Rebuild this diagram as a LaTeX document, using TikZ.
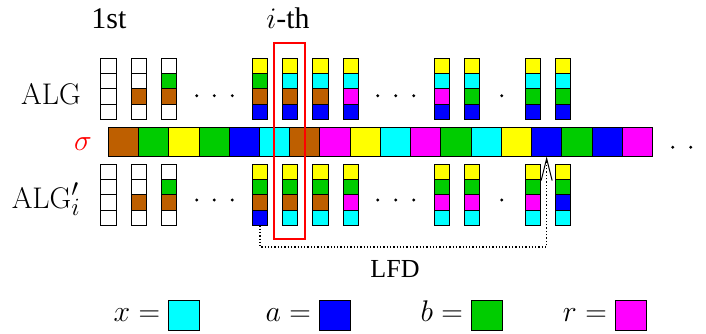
\documentclass[tikz,border=0pt]{standalone}
\usepackage{fontspec}
\newfontfamily\tms{Liberation Serif}
\usetikzlibrary{arrows.meta}
\definecolor{mybrown}{RGB}{190,95,0}
\definecolor{mygreen}{RGB}{0,204,0}
\definecolor{myyellow}{RGB}{255,255,0}
\definecolor{mycyan}{RGB}{0,255,255}
\definecolor{myblue}{RGB}{0,0,255}
\definecolor{mymagenta}{RGB}{255,0,255}
\tikzset{
  cell/.style={draw=black, line width=0.8pt, minimum width=15.3pt, minimum height=15.25pt, inner sep=0pt, outer sep=0pt},
  scell/.style={draw=black, line width=0.9pt, minimum width=30.23pt, minimum height=29.5pt, inner sep=0pt, outer sep=0pt},
  lcell/.style={draw=black, line width=0.9pt, minimum width=31pt, minimum height=30pt, inner sep=0pt, outer sep=0pt},
  big/.style={inner sep=0pt, font=\Huge, scale=1.2},
  lbl/.style={inner sep=0pt, font=\fontsize{26}{26}\selectfont\tms},
}
\newcommand\mystack[4]{%
  \foreach \cc [count=\k] in {#4} {
    \node[cell, fill=\cc] (#1-\k) at ({108.35+30.3*#2}, {#3+15.25*(\k-0.5)}) {};
  }}
\begin{document}
\begin{tikzpicture}[x=1pt, y=-1pt]
\useasboundingbox (0,0) rectangle (706,334);
% labels
\node[inner sep=0pt, anchor=base, font=\fontsize{30}{30}\selectfont\tms] (first) at (109,28.3) {1st};
\node[big, anchor=base] (ith) at (288,28.3) {$i$\fontsize{24.88}{25}\selectfont\tms -th};
\node[big, anchor=base] (alg) at (51,105) {$\mathrm{ALG}$};
\node[big, anchor=base] (algp) at (46,208) {$\mathrm{ALG}'_i$};
\node[big, anchor=base, text=red] (sig) at (83,150) {$\sigma$};
% sigma strip
\foreach \cc [count=\k from 0] in {mybrown,mygreen,myyellow,mygreen,myblue,mycyan,mybrown,mymagenta,myyellow,mycyan,mymagenta,mygreen,mycyan,myyellow,myblue,mygreen,myblue,mymagenta} {
  \node[scell, fill=\cc] (s\k) at ({108.3+30.23*(\k+0.5)}, 141.75) {};
}
% ALG stacks
\mystack{a0}{0}{58.3}{white,white,white,white}
\mystack{a1}{1}{58.3}{white,white,mybrown,white}
\mystack{a2}{2}{58.3}{white,mygreen,mybrown,white}
\mystack{a5}{5}{58.3}{myyellow,mygreen,mybrown,myblue}
\mystack{a6}{6}{58.3}{myyellow,mycyan,mybrown,myblue}
\mystack{a7}{7}{58.3}{myyellow,mycyan,mybrown,myblue}
\mystack{a8}{8}{58.3}{myyellow,mycyan,mymagenta,myblue}
\mystack{a11}{11}{58.3}{myyellow,mycyan,mymagenta,myblue}
\mystack{a12}{12}{58.3}{myyellow,mycyan,mygreen,myblue}
\mystack{a14}{14}{58.3}{myyellow,mycyan,mygreen,myblue}
\mystack{a15}{15}{58.3}{myyellow,mycyan,mygreen,myblue}
% ALG' stacks
\mystack{p0}{0}{164.3}{white,white,white,white}
\mystack{p1}{1}{164.3}{white,white,mybrown,white}
\mystack{p2}{2}{164.3}{white,mygreen,mybrown,white}
\mystack{p5}{5}{164.3}{myyellow,mygreen,mybrown,myblue}
\mystack{p6}{6}{164.3}{myyellow,mygreen,mybrown,mycyan}
\mystack{p7}{7}{164.3}{myyellow,mygreen,mybrown,mycyan}
\mystack{p8}{8}{164.3}{myyellow,mygreen,mymagenta,mycyan}
\mystack{p11}{11}{164.3}{myyellow,mygreen,mymagenta,mycyan}
\mystack{p12}{12}{164.3}{myyellow,mygreen,mymagenta,mycyan}
\mystack{p14}{14}{164.3}{myyellow,mygreen,mymagenta,mycyan}
\mystack{p15}{15}{164.3}{myyellow,mygreen,myblue,mycyan}
% dots
\foreach \xx in {196.7,214.3,232.3,377.7,395.7,413.7,501.7} {
  \fill (\xx,95.7) circle (1.6pt);
  \fill (\xx,200) circle (1.6pt);
}
\fill (672.7,147.3) circle (1.6pt);
\fill (690.7,147.3) circle (1.6pt);
% LFD connector
\draw[line width=1.3pt, dash pattern=on 1.3pt off 2pt, -{Straight Barb[length=22pt,width=11pt,line width=1pt]}]
  (p5-4.south) -- ++(0,21.7) -| (s14.south);
\node[lbl, anchor=base] (lfd) at (395,277) {LFD};
% legend
\node[lcell, fill=mycyan, anchor=north west] (bx) at (168.3,300.7) {};
\node[lcell, fill=myblue, anchor=north west] (ba) at (319,300.7) {};
\node[lcell, fill=mygreen, anchor=north west] (bb) at (471,300.7) {};
\node[lcell, fill=mymagenta, anchor=north west] (br) at (615,300.7) {};
\node[big, anchor=base east] (lx) at ([xshift=-8pt]bx.west |- 0,321.7) {$x=$};
\node[big, anchor=base east] (la) at ([xshift=-8pt]ba.west |- 0,321.7) {$a=$};
\node[big, anchor=base east] (lb) at ([xshift=-8pt]bb.west |- 0,321.7) {$b=$};
\node[big, anchor=base east] (lr) at ([xshift=-8pt]br.west |- 0,321.7) {$r=$};
% highlight
\node[draw=red, line width=2.3pt, minimum width=31pt, minimum height=196.6pt, inner sep=0pt] (hl) at (289.5,141) {};
\end{tikzpicture}
\end{document}
